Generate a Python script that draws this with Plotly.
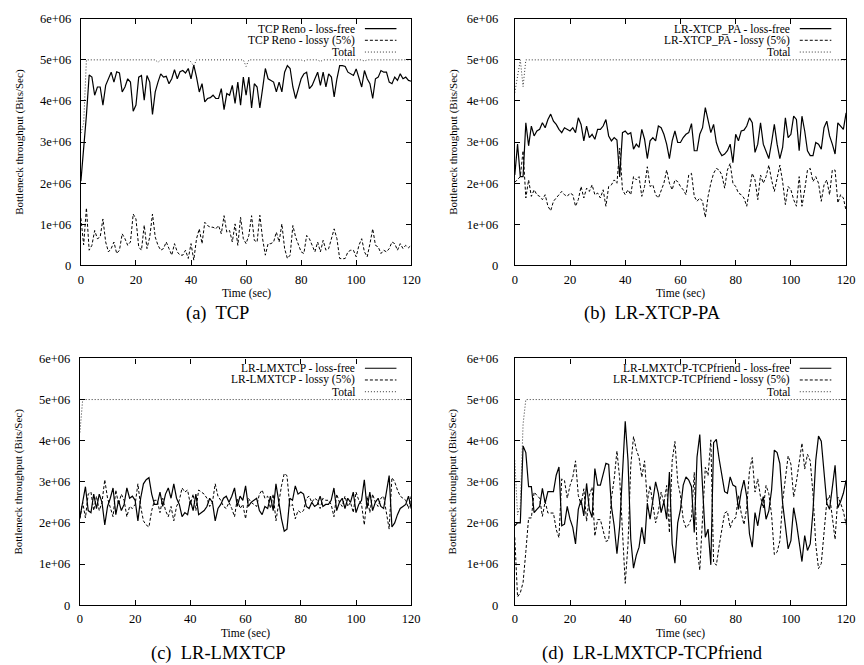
import plotly.graph_objects as go

# ---------------- data (values in units of 1e6 bits/sec) ----------------
TIME = list(range(0, 121))
X_TICKS = [0, 20, 40, 60, 80, 100, 120]
Y_TICKS = [0, 1, 2, 3, 4, 5, 6]
Y_TICK_LABELS = ["0", "1e+06", "2e+06", "3e+06", "4e+06", "5e+06", "6e+06"]

A_FREE = [2.05, 2.8, 3.65, 4.63, 4.58, 4.14, 4.34, 4.34, 3.9, 4.38,
          4.54, 4.7, 4.46, 4.71, 4.68, 4.22, 4.34, 4.54, 4.46, 3.75,
          3.9, 4.58, 4.62, 4.02, 4.62, 4.46, 3.67, 4.22, 4.46, 4.66,
          4.58, 4.6, 4.42, 4.54, 4.76, 4.54, 4.71, 4.74, 4.68, 4.79,
          4.54, 4.87, 4.58, 4.22, 4.42, 3.98, 4.06, 4.08, 4.14, 4.06,
          4.06, 4.3, 3.79, 4.18, 4.14, 4.38, 3.94, 4.46, 3.9, 4.58,
          4.14, 4.58, 3.83, 4.42, 4.34, 3.83, 4.3, 4.79, 4.54, 4.5,
          4.46, 4.22, 4.46, 4.22, 4.7, 4.86, 4.79, 4.34, 4.06, 4.3,
          4.54, 4.66, 4.7, 4.3, 4.38, 4.54, 4.7, 4.38, 4.7, 4.34,
          4.66, 4.58, 4.1, 4.54, 4.86, 4.86, 4.84, 4.7, 4.66, 4.62,
          4.78, 4.54, 4.34, 4.74, 4.54, 4.42, 4.06, 4.54, 4.58, 4.74,
          4.7, 4.7, 4.46, 4.42, 4.58, 4.5, 4.66, 4.54, 4.58, 4.5,
          4.48]
A_LOSSY = [1.15, 0.5, 1.4, 0.37, 0.49, 0.85, 0.65, 0.69, 1.13, 0.57,
           0.33, 0.41, 0.57, 0.29, 0.37, 0.77, 0.65, 0.49, 0.57, 1.25,
           1.13, 0.45, 0.37, 0.98, 0.41, 0.69, 1.25, 0.69, 0.49, 0.37,
           0.41, 0.57, 0.41, 0.25, 0.53, 0.33, 0.25, 0.25, 0.37, 0.17,
           0.53, 0.13, 0.65, 0.89, 0.53, 1.05, 0.97, 0.93, 0.93, 0.89,
           0.97, 0.77, 1.21, 0.81, 0.85, 0.57, 1.01, 0.49, 1.17, 0.65,
           0.53, 0.73, 1.21, 0.61, 0.57, 1.22, 0.65, 0.25, 0.53, 0.53,
           0.57, 0.81, 0.57, 1.01, 0.41, 0.17, 0.25, 0.97, 0.69, 0.49,
           0.33, 0.29, 0.73, 0.65, 0.49, 0.33, 0.57, 0.33, 0.61, 0.37,
           0.41, 0.65, 0.89, 0.65, 0.17, 0.16, 0.17, 0.33, 0.37, 0.37,
           0.21, 0.49, 0.65, 0.33, 0.21, 0.53, 0.89, 0.49, 0.45, 0.29,
           0.37, 0.33, 0.41, 0.57, 0.53, 0.37, 0.53, 0.41, 0.49, 0.43,
           0.49]
A_TOTAL = [3.22, 3.45, 5.0, 5.0, 5.0, 5.0, 5.0, 5.0, 5.0, 5.0,
           5.0, 5.0, 5.0, 5.0, 5.0, 5.0, 5.0, 5.0, 5.0, 5.0,
           5.0, 5.0, 5.0, 5.0, 5.0, 5.0, 5.0, 5.0, 4.94, 5.0,
           5.0, 5.0, 5.0, 5.0, 5.0, 5.0, 5.0, 5.0, 5.0, 5.0,
           4.95, 4.85, 5.0, 5.0, 5.0, 5.0, 5.0, 5.0, 5.0, 5.0,
           5.0, 5.0, 5.0, 5.0, 5.0, 5.0, 5.0, 5.0, 5.0, 5.0,
           4.84, 5.0, 5.0, 5.0, 5.0, 5.0, 5.0, 5.0, 5.0, 5.0,
           5.0, 5.0, 5.0, 5.0, 5.0, 5.0, 5.0, 5.0, 5.0, 5.0,
           5.0, 4.97, 5.0, 5.0, 5.0, 5.0, 5.0, 4.96, 5.0, 5.0,
           5.0, 5.0, 5.0, 5.0, 5.0, 5.0, 5.0, 5.0, 5.0, 5.0,
           5.0, 5.0, 5.0, 4.97, 5.0, 5.0, 5.0, 5.0, 5.0, 5.0,
           5.0, 5.0, 5.0, 5.0, 5.0, 5.0, 5.0, 5.0, 5.0, 5.0,
           5.0]

B_FREE = [2.2, 2.95, 2.16, 2.16, 3.47, 2.91, 3.39, 3.15, 3.27, 3.31,
          3.47, 3.35, 3.55, 3.68, 3.51, 3.43, 3.31, 3.23, 3.35, 3.31,
          3.27, 3.35, 3.23, 3.59, 3.43, 3.03, 3.39, 3.11, 3.19, 3.07,
          3.31, 3.31, 3.39, 3.55, 3.15, 3.03, 3.11, 3.05, 2.15, 3.23,
          3.27, 3.19, 3.23, 2.83, 2.95, 2.87, 3.31, 3.07, 2.6, 3.03,
          3.11, 3.03, 3.39, 3.35, 3.19, 2.95, 2.6, 3.03, 3.27, 2.99,
          2.99, 3.11, 3.19, 3.23, 3.45, 2.79, 2.79, 3.19, 3.35, 3.84,
          3.51, 3.23, 3.43, 2.99, 2.79, 2.67, 2.71, 2.79, 2.95, 2.5,
          3.19, 3.03, 3.27, 3.29, 3.39, 3.59, 3.47, 2.75, 2.95, 3.47,
          2.95, 2.79, 2.6, 2.99, 3.43, 2.95, 2.6, 2.87, 3.59, 3.11,
          3.19, 3.63, 3.55, 2.79, 3.63, 3.27, 2.79, 2.67, 2.67, 2.99,
          2.95, 2.83, 3.35, 3.51, 3.15, 2.95, 2.71, 3.47, 3.39, 3.31,
          3.71]
B_LOSSY = [2.02, 2.08, 2.16, 2.79, 1.64, 2.08, 1.68, 1.84, 1.72, 1.68,
           1.6, 1.72, 1.44, 1.33, 1.56, 1.64, 1.72, 1.8, 1.72, 1.68,
           1.76, 1.72, 1.44, 1.6, 1.92, 1.64, 1.88, 1.8, 1.96, 1.72,
           1.76, 1.64, 1.84, 1.44, 1.92, 1.96, 2.08, 2.0, 2.85, 1.84,
           1.72, 1.84, 1.72, 2.16, 2.08, 2.16, 1.68, 1.92, 2.4, 1.92,
           1.96, 1.72, 1.64, 1.84, 2.0, 2.32, 2.0, 1.84, 2.08, 2.04,
           1.92, 1.84, 1.72, 2.2, 2.24, 1.68, 1.56, 1.64, 1.56, 1.17,
           1.68, 2.0, 2.24, 2.36, 2.32, 2.2, 1.88, 2.32, 2.48, 2.0,
           1.92, 1.76, 1.72, 1.64, 1.44, 1.84, 2.24, 2.08, 1.6, 2.2,
           2.0, 2.16, 2.44, 2.08, 1.8, 2.12, 2.44, 2.04, 1.48, 1.92,
           1.84, 1.6, 1.44, 2.16, 1.44, 1.84, 2.32, 2.36, 2.04, 2.16,
           2.0, 1.56, 1.96, 2.08, 1.72, 2.32, 2.32, 1.52, 1.72, 1.64,
           1.33]
B_TOTAL = [4.2, 4.6, 5.0, 4.35, 5.0, 5.0, 5.0, 5.0, 5.0, 5.0,
           5.0, 5.0, 5.0, 5.0, 5.0, 5.0, 5.0, 5.0, 5.0, 5.0,
           5.0, 5.0, 5.0, 5.0, 5.0, 5.0, 5.0, 5.0, 5.0, 5.0,
           5.0, 5.0, 5.0, 5.0, 5.0, 5.0, 5.0, 5.0, 5.0, 5.0,
           5.0, 5.0, 5.0, 5.0, 5.0, 5.0, 5.0, 5.0, 5.0, 5.0,
           5.0, 5.0, 5.0, 5.0, 5.0, 5.0, 5.0, 5.0, 5.0, 5.0,
           5.0, 5.0, 5.0, 5.0, 5.0, 5.0, 5.0, 5.0, 5.0, 5.0,
           5.0, 5.0, 5.0, 5.0, 5.0, 5.0, 5.0, 5.0, 5.0, 5.0,
           5.0, 5.0, 5.0, 5.0, 5.0, 5.0, 5.0, 5.0, 5.0, 5.0,
           5.0, 5.0, 5.0, 5.0, 5.0, 5.0, 5.0, 5.0, 5.0, 5.0,
           5.0, 5.0, 5.0, 5.0, 5.0, 5.0, 5.0, 5.0, 5.0, 5.0,
           5.0, 5.0, 5.0, 5.0, 5.0, 5.0, 5.0, 5.0, 5.0, 5.0,
           5.0]

C_FREE = [2.13, 2.5, 2.88, 2.3, 2.25, 2.7, 2.35, 2.7, 2.5, 1.95,
          2.4, 2.6, 2.85, 2.2, 2.55, 2.3, 2.45, 2.85, 2.6, 2.65,
          2.55, 2.05, 2.6, 2.95, 3.05, 3.1, 2.7, 2.45, 2.45, 2.75,
          2.4, 2.7, 2.85, 2.6, 2.95, 2.6, 2.45, 2.15, 2.25, 2.2,
          2.55, 2.3, 2.7, 2.2, 2.25, 2.3, 2.4, 2.6, 2.5, 2.05,
          2.35, 2.45, 2.6, 2.65, 2.5, 2.65, 2.85, 2.4, 2.65, 2.55,
          2.9, 2.4, 2.5, 2.55, 2.6, 2.3, 2.2, 2.4, 2.35, 2.65,
          2.3, 2.95, 2.5, 2.1, 1.8, 1.85, 2.6, 2.55, 2.9, 2.7,
          2.75, 2.7, 2.4, 2.35, 2.5, 2.4, 2.45, 2.65, 2.4, 2.45,
          2.45, 2.55, 2.85, 2.3, 2.5, 2.6, 2.35, 2.6, 2.5, 2.75,
          2.25, 2.45, 2.55, 3.05, 2.35, 2.75, 2.3, 2.5, 2.6, 2.4,
          2.35, 2.8, 3.15, 1.9, 2.0, 2.2, 2.35, 2.4, 2.45, 2.65,
          2.35]
C_LOSSY = [2.1, 2.5, 2.12, 2.7, 2.75, 2.3, 2.65, 2.3, 2.5, 3.05,
           2.6, 2.4, 2.15, 2.8, 2.45, 2.7, 2.55, 2.15, 2.4, 2.35,
           2.45, 2.95, 2.4, 2.05, 1.95, 1.9, 2.3, 2.55, 2.55, 2.25,
           2.6, 2.3, 2.15, 2.4, 2.05, 2.4, 2.55, 2.85, 2.75, 2.8,
           2.45, 2.7, 2.3, 2.8, 2.75, 2.7, 2.6, 2.4, 2.5, 2.95,
           2.65, 2.55, 2.4, 2.35, 2.5, 2.35, 2.15, 2.6, 2.35, 2.45,
           2.1, 2.6, 2.5, 2.45, 2.4, 2.7, 2.8, 2.6, 2.65, 2.35,
           2.7, 2.05, 2.5, 2.9, 3.2, 3.15, 2.4, 2.45, 2.1, 2.3,
           2.25, 2.3, 2.6, 2.65, 2.5, 2.6, 2.55, 2.35, 2.6, 2.55,
           2.55, 2.45, 2.15, 2.7, 2.5, 2.4, 2.65, 2.4, 2.5, 2.25,
           2.75, 2.55, 2.45, 1.95, 2.65, 2.25, 2.7, 2.5, 2.4, 2.6,
           2.65, 2.2, 1.85, 3.1, 3.0, 2.8, 2.65, 2.6, 2.55, 2.35,
           2.65]
C_TOTAL = [4.2, 5.0, 5.0, 5.0, 5.0, 5.0, 5.0, 5.0, 5.0, 5.0,
           5.0, 5.0, 5.0, 5.0, 5.0, 5.0, 5.0, 5.0, 5.0, 5.0,
           5.0, 5.0, 5.0, 5.0, 5.0, 5.0, 5.0, 5.0, 5.0, 5.0,
           5.0, 5.0, 5.0, 5.0, 5.0, 5.0, 5.0, 5.0, 5.0, 5.0,
           5.0, 5.0, 5.0, 5.0, 5.0, 5.0, 5.0, 5.0, 5.0, 5.0,
           5.0, 5.0, 5.0, 5.0, 5.0, 5.0, 5.0, 5.0, 5.0, 5.0,
           5.0, 5.0, 5.0, 5.0, 5.0, 5.0, 5.0, 5.0, 5.0, 5.0,
           5.0, 5.0, 5.0, 5.0, 5.0, 5.0, 5.0, 5.0, 5.0, 5.0,
           5.0, 5.0, 5.0, 5.0, 5.0, 5.0, 5.0, 5.0, 5.0, 5.0,
           5.0, 5.0, 5.0, 5.0, 5.0, 5.0, 5.0, 5.0, 5.0, 5.0,
           5.0, 5.0, 5.0, 5.0, 5.0, 5.0, 5.0, 5.0, 5.0, 5.0,
           5.0, 5.0, 5.0, 5.0, 5.0, 5.0, 5.0, 5.0, 5.0, 5.0,
           5.0]

D_FREE = [1.93, 2.0, 2.0, 3.87, 3.71, 2.88, 2.88, 2.25, 2.33, 2.4,
          2.84, 2.48, 2.76, 2.76, 2.76, 3.16, 3.36, 1.93, 1.97, 2.4,
          2.09, 1.89, 1.49, 2.33, 2.56, 2.17, 2.96, 2.33, 2.13, 3.32,
          2.92, 2.92, 3.2, 3.45, 3.42, 2.4, 1.93, 1.25, 1.93, 3.2,
          4.47, 3.52, 1.61, 0.9, 1.21, 1.41, 1.89, 1.49, 2.48, 2.09,
          2.56, 3.0, 2.72, 2.25, 2.52, 2.09, 3.24, 1.49, 1.02, 2.0,
          2.33, 2.92, 3.12, 3.04, 2.88, 1.77, 3.6, 4.15, 2.88, 1.65,
          1.85, 0.98, 3.95, 4.03, 3.56, 3.2, 2.76, 2.72, 3.12, 2.92,
          2.88, 2.33, 2.76, 3.04, 2.64, 1.73, 1.41, 2.25, 1.93, 2.37,
          2.64, 2.09, 2.29, 2.8, 3.77, 3.71, 3.44, 2.48, 1.93, 1.37,
          1.57, 2.37, 2.0, 1.57, 1.06, 1.69, 1.33, 1.49, 2.29, 3.52,
          4.11, 3.99, 3.28, 2.48, 2.33, 2.88, 3.4, 2.37, 2.52, 2.72,
          3.04]
D_LOSSY = [1.65, 0.2, 0.3, 0.55, 1.3, 2.12, 2.12, 2.75, 2.67, 2.6,
           2.16, 2.52, 2.24, 2.24, 2.24, 1.84, 1.64, 3.07, 3.03, 2.6,
           2.91, 3.11, 3.51, 2.67, 2.44, 2.83, 2.04, 2.67, 2.87, 1.68,
           2.08, 2.08, 1.8, 1.55, 1.58, 2.6, 3.07, 3.75, 3.07, 1.8,
           0.53, 1.48, 3.39, 4.1, 3.79, 3.59, 3.11, 3.51, 2.52, 2.91,
           2.44, 2.0, 2.28, 2.75, 2.48, 2.91, 1.76, 3.51, 3.98, 3.0,
           2.67, 2.08, 1.88, 1.96, 2.12, 3.23, 1.4, 0.85, 2.12, 3.35,
           3.15, 4.02, 1.05, 0.97, 1.44, 1.8, 2.24, 2.28, 1.88, 2.08,
           2.12, 2.67, 2.24, 1.96, 2.36, 3.27, 3.59, 2.75, 3.07, 2.63,
           2.36, 2.91, 2.71, 2.2, 1.23, 1.29, 1.56, 2.52, 3.07, 3.63,
           3.43, 2.63, 3.0, 3.43, 3.94, 3.31, 3.67, 3.51, 2.71, 1.48,
           0.89, 1.01, 1.72, 2.52, 2.67, 2.12, 1.6, 2.63, 2.48, 2.28,
           1.96]
D_TOTAL = [3.52, 2.2, 2.4, 4.4, 5.0, 5.0, 5.0, 5.0, 5.0, 5.0,
           5.0, 5.0, 5.0, 5.0, 5.0, 5.0, 5.0, 5.0, 5.0, 5.0,
           5.0, 5.0, 5.0, 5.0, 5.0, 5.0, 5.0, 5.0, 5.0, 5.0,
           5.0, 5.0, 5.0, 5.0, 5.0, 5.0, 5.0, 5.0, 5.0, 5.0,
           5.0, 5.0, 5.0, 5.0, 5.0, 5.0, 5.0, 5.0, 5.0, 5.0,
           5.0, 5.0, 5.0, 5.0, 5.0, 5.0, 5.0, 5.0, 5.0, 5.0,
           5.0, 5.0, 5.0, 5.0, 5.0, 5.0, 5.0, 5.0, 5.0, 5.0,
           5.0, 5.0, 5.0, 5.0, 5.0, 5.0, 5.0, 5.0, 5.0, 5.0,
           5.0, 5.0, 5.0, 5.0, 5.0, 5.0, 5.0, 5.0, 5.0, 5.0,
           5.0, 5.0, 5.0, 5.0, 5.0, 5.0, 5.0, 5.0, 5.0, 5.0,
           5.0, 5.0, 5.0, 5.0, 5.0, 5.0, 5.0, 5.0, 5.0, 5.0,
           5.0, 5.0, 5.0, 5.0, 5.0, 5.0, 5.0, 5.0, 5.0, 5.0,
           5.0]

NAMES_A = ["TCP Reno - loss-free", "TCP Reno - lossy (5%)", "Total"]
NAMES_B = ["LR-XTCP_PA - loss-free", "LR-XTCP_PA - lossy (5%)", "Total"]
NAMES_C = ["LR-LMXTCP - loss-free", "LR-LMXTCP - lossy (5%)", "Total"]
NAMES_D = ["LR-LMXTCP-TCPfriend - loss-free", "LR-LMXTCP-TCPfriend - lossy (5%)", "Total"]
CAPTIONS = ["(a)\u00a0 TCP", "(b)\u00a0 LR-XTCP-PA", "(c)\u00a0 LR-LMXTCP", "(d)\u00a0 LR-LMXTCP-TCPfriend"]
X_TITLE = "Time (sec)"
Y_TITLE = "Bottleneck throughput (Bits/Sec)"

# ---------------- layout helpers ----------------
W, H = 864, 665
SERIF = "Liberation Serif"


def px(x):
    return x / W


def py(y):
    return 1 - y / H


STYLES = [dict(color="black", width=1.2, dash="solid"),
          dict(color="black", width=1.0, dash="3px,2px"),
          dict(color="#333333", width=1.0, dash="1px,2px")]

# panel geometry in pixels: left, right, top, bottom, label standoff, ytitle x, caption x
PANELS = [
    dict(data=(A_FREE, A_LOSSY, A_TOTAL), names=NAMES_A, l=79, r=414, t=12, b=264, so=6, ytx=16, capx=218),
    dict(data=(B_FREE, B_LOSSY, B_TOTAL), names=NAMES_B, l=519, r=855, t=12, b=264, so=13, ytx=456, capx=659),
    dict(data=(C_FREE, C_LOSSY, C_TOTAL), names=NAMES_C, l=78, r=414, t=359, b=611, so=6, ytx=16, capx=219),
    dict(data=(D_FREE, D_LOSSY, D_TOTAL), names=NAMES_D, l=519, r=855, t=359, b=611, so=13, ytx=456, capx=659),
]

fig = go.Figure()
annotations = []
shapes = []
layout = {}

for i, p in enumerate(PANELS):
    k = "" if i == 0 else str(i + 1)
    xa, ya = "x" + k, "y" + k
    for series, name, st in zip(p["data"], p["names"], STYLES):
        fig.add_trace(go.Scatter(x=TIME, y=series, mode="lines", name=name,
                                 line=st, xaxis=xa, yaxis=ya, showlegend=False,
                                 hoverinfo="skip"))
    common = dict(showline=True, linecolor="black", linewidth=1.3, mirror="ticks",
                  ticks="inside", ticklen=5, tickwidth=1, tickcolor="black",
                  showgrid=False, zeroline=False,
                  tickfont=dict(family=SERIF, size=12.5, color="black"))
    layout["xaxis" + k] = dict(common, domain=[px(p["l"]), px(p["r"])], anchor=ya,
                               range=[0, 120], tickvals=X_TICKS, ticklabelstandoff=2)
    layout["yaxis" + k] = dict(common, domain=[py(p["b"]), py(p["t"])], anchor=xa,
                               range=[0, 6], tickvals=Y_TICKS, ticktext=Y_TICK_LABELS,
                               ticklabelstandoff=p["so"])
    cx = (p["l"] + p["r"]) / 2
    cy = (p["t"] + p["b"]) / 2
    annotations.append(dict(text=X_TITLE, x=px(cx), y=py(p["b"] + 29), xref="paper", yref="paper",
                            showarrow=False, xanchor="center", yanchor="middle", borderpad=0,
                            font=dict(family=SERIF, size=11.5, color="black")))
    annotations.append(dict(text=Y_TITLE, x=px(p["ytx"]), y=py(cy), xref="paper", yref="paper",
                            showarrow=False, xanchor="center", yanchor="middle", textangle=-90,
                            font=dict(family=SERIF, size=11, color="black")))
    annotations.append(dict(text=CAPTIONS[i], x=px(p["capx"]), y=py(p["b"] + 49), xref="paper",
                            yref="paper", showarrow=False, xanchor="center", yanchor="middle",
                            borderpad=0, font=dict(family=SERIF, size=18.5, color="black")))
    # legend (gnuplot style: text right-aligned, sample on the right)
    text_right = p["r"] - 55
    s0, s1 = p["r"] - 47, p["r"] - 15
    for j, (name, st) in enumerate(zip(p["names"], STYLES)):
        ry = p["t"] + 10 + 12 * j
        annotations.append(dict(text=name, x=px(text_right), y=py(ry), xref="paper", yref="paper",
                                showarrow=False, xanchor="right", yanchor="middle",
                                font=dict(family=SERIF, size=11.5, color="black")))
        shapes.append(dict(type="line", xref="paper", yref="paper", x0=px(s0), x1=px(s1),
                           y0=py(ry), y1=py(ry), line=st))

fig.update_layout(width=W, height=H, margin=dict(l=0, r=0, t=0, b=0),
                  paper_bgcolor="white", plot_bgcolor="white",
                  annotations=annotations, shapes=shapes, **layout)

fig.write_html("out.html")
